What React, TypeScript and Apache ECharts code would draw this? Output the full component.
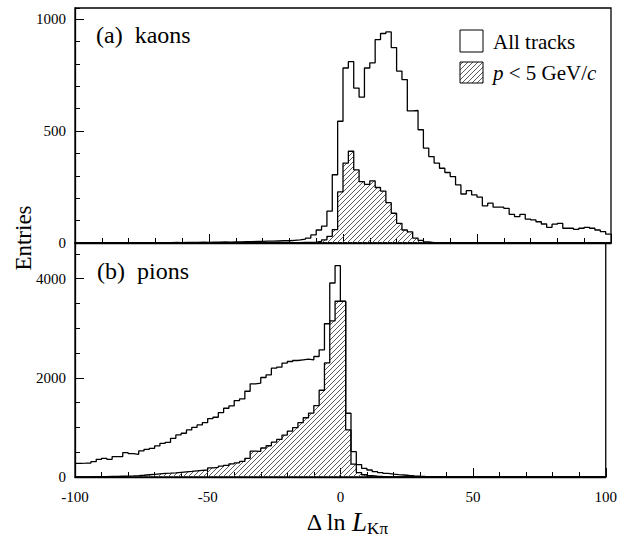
import React, { useEffect, useRef } from 'react';
import * as echarts from 'echarts';

// Histogram binning (x = Δ ln L_Kπ)
const X_MIN = -100;
const X_MAX = 100;
const BIN_WIDTH = 2;

const xTickLabels = ['-100', '-50', '0', '50', '100'];
const kaonYTickLabels = ['0', '500', '1000'];
const pionYTickLabels = ['0', '2000', '4000'];

// (a) kaons, all tracks — 100 bins from -100 to 100
const kaonAll = [
  0, 0, 0, 0, 1, 0, 1, 0, 1, 1,
  1, 1, 1, 2, 1, 2, 2, 2, 3, 2,
  3, 3, 3, 4, 3, 4, 4, 5, 4, 5,
  5, 6, 6, 7, 7, 8, 8, 9, 10, 10,
  12, 14, 17, 22, 36, 58, 75, 142, 305, 544,
  782, 810, 692, 652, 782, 805, 909, 936, 943, 873,
  768, 730, 590, 592, 506, 424, 386, 357, 334, 315,
  297, 260, 219, 234, 215, 205, 166, 178, 160, 160,
  155, 128, 118, 128, 107, 103, 95, 85, 70, 84,
  88, 66, 66, 61, 66, 70, 66, 58, 51, 40,
];

// (a) kaons, p < 5 GeV/c
const kaonLowP = [
  0, 0, 0, 0, 0, 0, 0, 0, 0, 0,
  0, 0, 0, 0, 0, 0, 0, 0, 0, 0,
  0, 0, 0, 0, 0, 0, 0, 0, 0, 1,
  0, 0, 1, 0, 1, 1, 1, 1, 2, 2,
  2, 2, 3, 3, 4, 7, 14, 30, 60, 228,
  357, 410, 327, 274, 262, 278, 248, 232, 180, 133,
  88, 58, 50, 22, 12, 5, 2, 1, 0, 0,
  0, 0, 0, 0, 0, 0, 0, 0, 0, 0,
  0, 0, 0, 0, 0, 0, 0, 0, 0, 0,
  0, 0, 0, 0, 0, 0, 0, 0, 0, 0,
];

// (b) pions, all tracks
const pionAll = [
  276, 278, 282, 310, 357, 377, 357, 411, 411, 492,
  472, 458, 525, 559, 579, 626, 680, 700, 781, 848,
  882, 949, 1003, 1050, 1097, 1178, 1205, 1300, 1387, 1434,
  1542, 1575, 1730, 1880, 1893, 2007, 2061, 2196, 2216, 2297,
  2330, 2350, 2364, 2377, 2364, 2431, 2566, 3091, 3913, 4263,
  3541, 1286, 511, 250, 175, 141, 108, 90, 74, 60,
  48, 40, 30, 22, 16, 12, 9, 7, 5, 4,
  3, 3, 2, 2, 2, 1, 1, 1, 1, 1,
  1, 1, 0, 0, 0, 0, 0, 0, 0, 0,
  0, 0, 0, 0, 0, 0, 0, 0, 0, 0,
];

// (b) pions, p < 5 GeV/c
const pionLowP = [
  3, 3, 4, 5, 6, 8, 10, 12, 15, 18,
  22, 28, 35, 45, 55, 65, 72, 78, 85, 95,
  105, 112, 125, 135, 141, 185, 195, 220, 235, 265,
  285, 315, 377, 520, 515, 585, 630, 705, 758, 845,
  925, 995, 1095, 1195, 1290, 1440, 1750, 2300, 3150, 3545,
  3545, 950, 260, 90, 45, 25, 15, 10, 6, 4,
  3, 2, 1, 1, 0, 0, 0, 0, 0, 0,
  0, 0, 0, 0, 0, 0, 0, 0, 0, 0,
  0, 0, 0, 0, 0, 0, 0, 0, 0, 0,
  0, 0, 0, 0, 0, 0, 0, 0, 0, 0,
];

const SERIF = 'Liberation Serif, DejaVu Serif, serif';

function stepData(vals: number[]) {
  const pts: number[][] = vals.map((v, i) => [X_MIN + i * BIN_WIDTH, v]);
  pts.push([X_MIN + vals.length * BIN_WIDTH, vals[vals.length - 1]]);
  return pts;
}

function makeHatch() {
  const c = document.createElement('canvas');
  c.width = 5;
  c.height = 5;
  const ctx = c.getContext('2d')!;
  ctx.strokeStyle = '#4a4a4a';
  ctx.lineWidth = 0.9;
  ctx.beginPath();
  ctx.moveTo(0, 5); ctx.lineTo(5, 0);
  ctx.moveTo(-2, 2); ctx.lineTo(2, -2);
  ctx.moveTo(3, 7); ctx.lineTo(7, 3);
  ctx.stroke();
  return { image: c, repeat: 'repeat' } as any;
}

export default function App() {
  const ref = useRef<HTMLDivElement>(null);

  useEffect(() => {
    if (!ref.current) return;
    const chart = echarts.init(ref.current, undefined, { renderer: 'svg' });
    const hatch = makeHatch();

    const xAxis = (gridIndex: number, labels: boolean) => ({
      type: 'value',
      gridIndex,
      min: X_MIN,
      max: X_MAX,
      interval: 50,
      axisLine: { show: true, onZero: false, lineStyle: { color: '#000', width: 1.3 } },
      axisTick: { show: true, inside: true, length: 9, lineStyle: { color: '#000', width: 1 } },
      minorTick: { show: true, splitNumber: 5, length: 5, lineStyle: { color: '#000', width: 1 } },
      splitLine: { show: false },
      axisLabel: {
        show: labels,
        color: '#000',
        fontFamily: SERIF,
        fontSize: 15,
        margin: 12,
        formatter: (v: number) => xTickLabels[Math.round((v - X_MIN) / 50)] ?? '',
      },
    });

    const majorY = (gridIndex: number, max: number, interval: number, labels: string[]) => ({
      type: 'value',
      gridIndex,
      position: 'left',
      min: 0,
      max,
      interval,
      axisLine: { show: true, onZero: false, lineStyle: { color: '#000', width: 1.3 } },
      axisTick: { show: true, inside: true, length: 9, lineStyle: { color: '#000', width: 1 } },
      splitLine: { show: false },
      axisLabel: {
        color: '#000',
        fontFamily: SERIF,
        fontSize: 15,
        margin: 9,
        showMaxLabel: false,
        formatter: (v: number) => labels[Math.round(v / interval)] ?? '',
      },
    });

    const minorY = (gridIndex: number, max: number, interval: number) => ({
      type: 'value',
      gridIndex,
      position: 'left',
      min: 0,
      max,
      interval,
      axisLine: { show: false, onZero: false },
      axisTick: { show: true, inside: true, length: 5, lineStyle: { color: '#000', width: 1 } },
      splitLine: { show: false },
      axisLabel: { show: false },
    });

    const histLine = (xi: number, yi: number, vals: number[], hatched: boolean) => ({
      type: 'line',
      xAxisIndex: xi,
      yAxisIndex: yi,
      data: stepData(vals),
      step: 'end',
      symbol: 'none',
      silent: true,
      lineStyle: { color: '#000', width: 1.3 },
      areaStyle: hatched ? { color: hatch, opacity: 1 } : undefined,
      z: hatched ? 2 : 3,
    });

    chart.setOption({
      animation: false,
      backgroundColor: '#fff',
      grid: [
        { left: 75, right: 9, top: 8, height: 235, show: true, borderColor: '#000', borderWidth: 1.3 },
        { left: 75, right: 9, top: 243, height: 234, show: true, borderColor: '#000', borderWidth: 1.3 },
      ],
      xAxis: [xAxis(0, false), xAxis(1, true)],
      yAxis: [
        majorY(0, 1050, 500, kaonYTickLabels),
        minorY(0, 1050, 100),
        majorY(1, 4720, 2000, pionYTickLabels),
        minorY(1, 4720, 500),
      ],
      series: [
        histLine(0, 0, kaonLowP, true),
        histLine(0, 0, kaonAll, false),
        histLine(1, 2, pionLowP, true),
        histLine(1, 2, pionAll, false),
      ],
      graphic: [
        {
          type: 'text', x: 96, y: 35,
          style: { text: '(a)  kaons', fontSize: 24, fontFamily: SERIF, fill: '#000', verticalAlign: 'middle' },
        },
        {
          type: 'text', x: 97, y: 271,
          style: { text: '(b)  pions', fontSize: 24, fontFamily: SERIF, fill: '#000', verticalAlign: 'middle' },
        },
        {
          type: 'text', x: 23, y: 238, rotation: Math.PI / 2,
          style: { text: 'Entries', fontSize: 23, fontFamily: SERIF, fill: '#000', align: 'center', verticalAlign: 'middle' },
        },
        {
          type: 'rect', shape: { x: 460, y: 30, width: 23, height: 22 },
          style: { fill: '#fff', stroke: '#000', lineWidth: 1 },
        },
        {
          type: 'rect', shape: { x: 460, y: 62, width: 23, height: 21 },
          style: { fill: hatch, stroke: '#000', lineWidth: 1 },
        },
        {
          type: 'text', x: 493, y: 42,
          style: { text: 'All tracks', fontSize: 21, fontFamily: SERIF, fill: '#000', verticalAlign: 'middle' },
        },
        {
          type: 'text', x: 493, y: 73,
          style: {
            text: '{i|p} < 5 GeV/{i|c}',
            fontSize: 21,
            fontFamily: SERIF,
            fill: '#000',
            verticalAlign: 'middle',
            rich: { i: { fontStyle: 'italic', fontSize: 21, fontFamily: SERIF, fill: '#000' } },
          },
        },
        {
          type: 'text', x: 347, y: 522,
          style: {
            text: '{n|Δ ln }{L|L}{s|Kπ}',
            fill: '#000',
            align: 'center',
            verticalAlign: 'middle',
            rich: {
              n: { fontSize: 24, fontFamily: SERIF, lineHeight: 30, fill: '#000' },
              L: { fontSize: 27, fontFamily: SERIF, fontStyle: 'italic', lineHeight: 30, fill: '#000' },
              s: { fontSize: 17, fontFamily: SERIF, lineHeight: 17, verticalAlign: 'bottom', fill: '#000' },
            },
          },
        },
      ],
    });

    return () => chart.dispose();
  }, []);

  return (
    <div
      ref={ref}
      style={{ position: 'absolute', left: 0, top: 0, width: 620, height: 540 }}
    />
  );
}
